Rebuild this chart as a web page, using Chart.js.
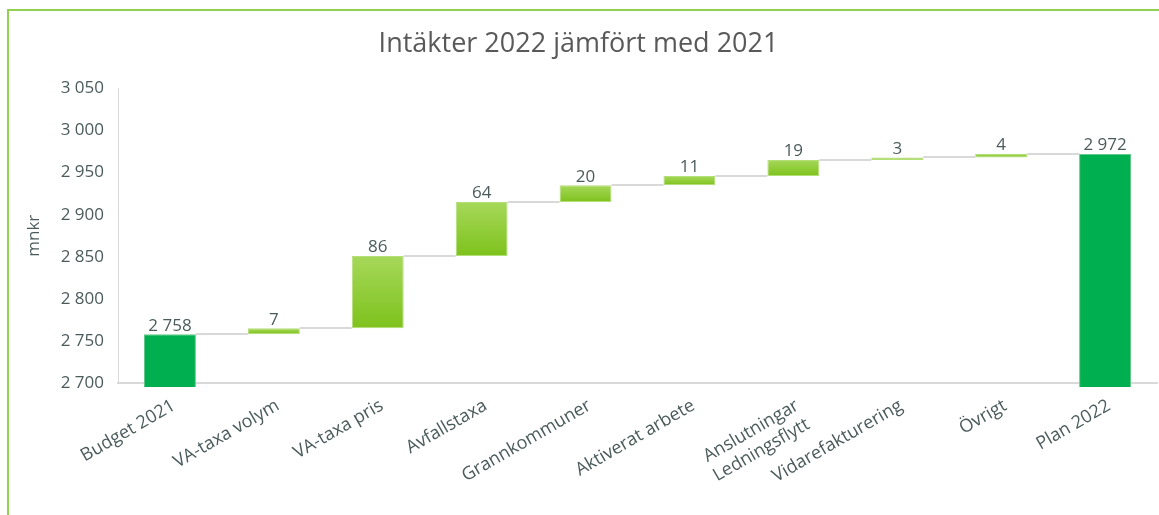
<!DOCTYPE html>
<html>
<head>
<meta charset="utf-8">
<script src="https://cdn.jsdelivr.net/npm/chart.js@4"></script>
<style>
    html, body { margin: 0; padding: 0; background: #fff; }
    #wrap {
        position: relative;
        width: 1159px;
        height: 515px;
        overflow: hidden;
    }
    #frame {
        position: absolute;
        left: 7px;
        top: 9px;
        width: 1200px;
        height: 600px;
        border-top: 2px solid #92D050;
        border-left: 2px solid #92D050;
        pointer-events: none;
    }
    canvas { position: absolute; left: 0; top: 0; }
</style>
</head>
<body>
<div id="wrap">
    <canvas id="chart" width="1159" height="515"></canvas>
    <div id="frame"></div>
</div>
<script>
// Data
const categories = [
    "Budget 2021", "VA-taxa volym", "VA-taxa pris", "Avfallstaxa", "Grannkommuner",
    "Aktiverat arbete", ["Anslutningar", "Ledningsflytt"], "Vidarefakturering", "Övrigt", "Plan 2022"
];
const amounts = [2758, 7, 86, 64, 20, 11, 19, 3, 4, 2972];
const isTotal = [true, false, false, false, false, false, false, false, false, true];
const yMin = 2700;
const yMax = 3050;
const yStep = 50;

// Colors
const TEXT_COLOR = "#4B5B5B";
const TOTAL_COLOR = "#00B050";
const CONNECTOR_COLOR = "#D9D9D9";

// Build floating bars [start, end] from the amounts
const floating = [];
const levels = [];
let running = 0;
amounts.forEach((v, i) => {
    if (isTotal[i]) {
        floating.push([0, v]);
        running = v;
    } else {
        floating.push([running, running + v]);
        running += v;
    }
    levels.push(running);
});

function fmt(v) {
    return String(v).replace(/\B(?=(\d{3})+(?!\d))/g, " ");
}

function barColor(ctx) {
    const i = ctx.dataIndex;
    if (isTotal[i]) return TOTAL_COLOR;
    const chart = ctx.chart;
    const y = chart.scales.y;
    if (!y || !chart.chartArea) return "#8FCB34";
    const top = y.getPixelForValue(floating[i][1]);
    const bottom = y.getPixelForValue(floating[i][0]);
    if (!isFinite(top) || !isFinite(bottom) || top === bottom) return "#8FCB34";
    const g = chart.ctx.createLinearGradient(0, top, 0, bottom);
    g.addColorStop(0, "#A6D85A");
    g.addColorStop(1, "#7EC21C");
    return g;
}

// Connector lines between bars
const connectorPlugin = {
    id: "connectors",
    beforeDatasetsDraw(chart) {
        const meta = chart.getDatasetMeta(0);
        const y = chart.scales.y;
        const ctx = chart.ctx;
        ctx.save();
        ctx.strokeStyle = CONNECTOR_COLOR;
        ctx.lineWidth = 2;
        for (let i = 0; i < meta.data.length - 1; i++) {
            const a = meta.data[i];
            const b = meta.data[i + 1];
            const py = Math.round(y.getPixelForValue(levels[i]));
            ctx.beginPath();
            ctx.moveTo(a.x + a.width / 2, py);
            ctx.lineTo(b.x - b.width / 2, py);
            ctx.stroke();
        }
        ctx.restore();
    }
};

// Value labels above each bar
const labelPlugin = {
    id: "valueLabels",
    afterDatasetsDraw(chart) {
        const meta = chart.getDatasetMeta(0);
        const y = chart.scales.y;
        const ctx = chart.ctx;
        ctx.save();
        ctx.fillStyle = TEXT_COLOR;
        ctx.font = "17px 'Open Sans'";
        ctx.textAlign = "center";
        ctx.textBaseline = "bottom";
        meta.data.forEach((bar, i) => {
            const top = y.getPixelForValue(Math.max(floating[i][0], floating[i][1]));
            ctx.fillText(fmt(amounts[i]), bar.x, top);
        });
        ctx.restore();
    }
};

new Chart(document.getElementById("chart"), {
    type: "bar",
    data: {
        labels: categories,
        datasets: [{
            data: floating,
            backgroundColor: barColor,
            borderColor: (ctx) => isTotal[ctx.dataIndex] ? "#62C98A" : "#B4DE78",
            borderWidth: 1,
            borderSkipped: false,
            categoryPercentage: 1,
            barPercentage: 0.5,
            clip: { left: 0, top: 0, right: 0, bottom: 4 }
        }]
    },
    options: {
        responsive: false,
        animation: false,
        layout: { padding: { left: 0, right: 2, top: 0, bottom: 0 } },
        plugins: {
            legend: { display: false },
            tooltip: { enabled: false },
            title: {
                display: true,
                text: "Intäkter 2022 jämfört med 2021",
                color: "#595959",
                font: { family: "Open Sans", size: 27, weight: "normal" },
                padding: { top: 28, bottom: 28 }
            }
        },
        scales: {
            x: {
                z: 1,
                grid: { display: false, drawTicks: false },
                border: { display: true, color: "#D9D9D9", width: 2 },
                ticks: {
                    color: TEXT_COLOR,
                    font: { family: "Open Sans", size: 18 },
                    minRotation: 30,
                    maxRotation: 30,
                    autoSkip: false,
                    labelOffset: 4,
                    padding: 12
                },
                afterFit(scale) { scale.height = 132; }
            },
            y: {
                min: yMin,
                max: yMax,
                grid: { display: false, drawTicks: false },
                border: { display: true, color: "#D9D9D9", width: 1 },
                ticks: {
                    stepSize: yStep,
                    color: TEXT_COLOR,
                    font: { family: "Open Sans", size: 17 },
                    padding: 14,
                    callback: (v) => fmt(v)
                },
                title: {
                    display: true,
                    text: "mnkr",
                    color: TEXT_COLOR,
                    font: { family: "Open Sans", size: 17 },
                    padding: { top: 24, bottom: 0 }
                },
                afterFit(scale) { scale.width = 118; }
            }
        }
    },
    plugins: [connectorPlugin, labelPlugin]
});
</script>
</body>
</html>
